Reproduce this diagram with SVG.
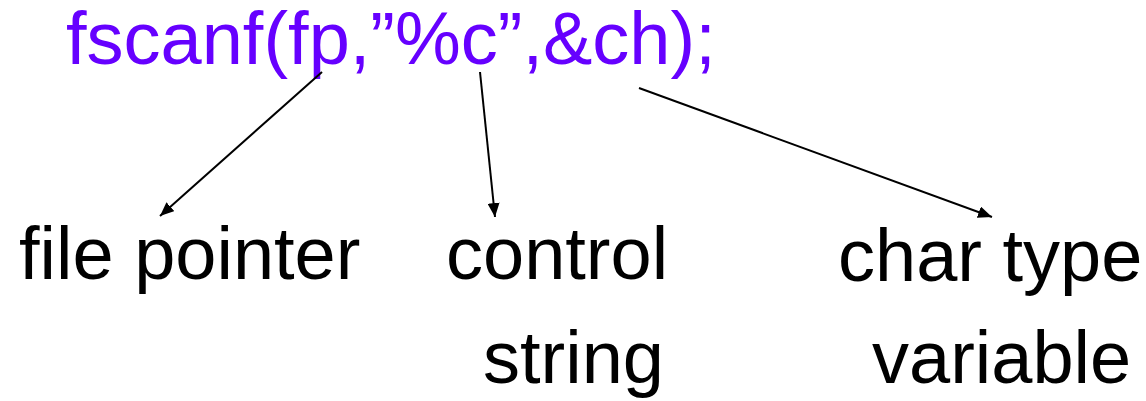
<svg xmlns="http://www.w3.org/2000/svg" width="1146" height="401" viewBox="0 0 1146 401">
  <style>
    .code { font-family: "Liberation Sans", Arial, sans-serif; font-size: 74px; fill: #6600FF; }
    .label { font-family: "Liberation Sans", Arial, sans-serif; font-size: 74px; fill: #000000; }
    .conn { stroke: #000000; stroke-width: 2; fill: none; marker-end: url(#head); }
  </style>
  <defs>
    <marker id="head" markerUnits="userSpaceOnUse" markerWidth="16" markerHeight="12" refX="14" refY="6" orient="auto">
      <path d="M0,0 L14,6 L0,12 z" fill="#000000"/>
    </marker>
  </defs>

  <!-- statement being explained -->
  <g id="statement">
    <text class="code" x="66" y="64">fscanf(fp,”%c”,&amp;ch);</text>
  </g>

  <!-- argument descriptions -->
  <g id="file-pointer">
    <text class="label" x="19" y="279">file pointer</text>
  </g>
  <g id="control-string">
    <text class="label" x="446" y="279">control</text>
    <text class="label" x="483" y="383">string</text>
  </g>
  <g id="char-variable">
    <text class="label" x="838" y="281">char type</text>
    <text class="label" x="872" y="383">variable</text>
  </g>

  <!-- pointers from each argument to its description -->
  <g id="connectors">
    <line class="conn" x1="322" y1="72" x2="160" y2="216"/>
    <line class="conn" x1="480" y1="72" x2="495" y2="217"/>
    <line class="conn" x1="639" y1="88" x2="992" y2="217"/>
  </g>
</svg>
